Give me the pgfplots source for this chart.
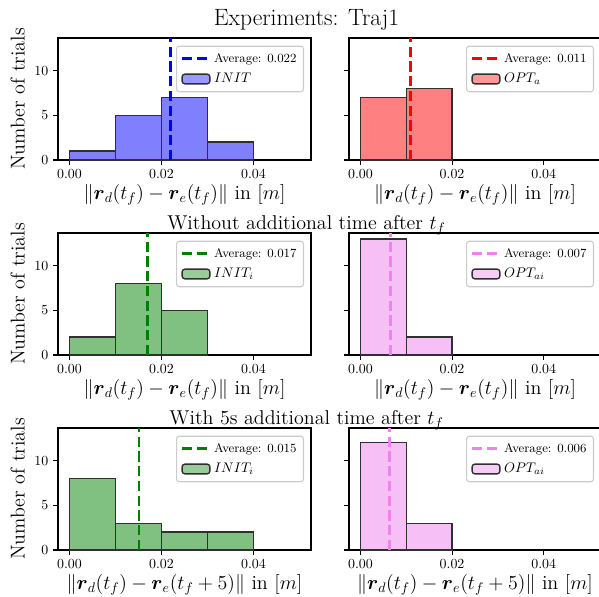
\documentclass[border=0pt]{standalone}
\usepackage{amsmath}
\usepackage{pgfplots}
\pgfplotsset{compat=1.18}
\definecolor{cblue}{HTML}{8080FF}
\definecolor{cred}{HTML}{FF8080}
\definecolor{cgreen}{HTML}{80C080}
\definecolor{cpink}{HTML}{F6C0F6}
\definecolor{mgreen}{HTML}{008000}
\definecolor{mviolet}{HTML}{EE82EE}
\definecolor{edgec}{HTML}{303030}
\pgfplotsset{
  mylinelegend/.style={legend image code/.code={\draw[##1] (0pt,0pt) -- (20pt,0pt);}},
  mypatchlegend/.style={legend image code/.code={\draw[##1] (0pt,-3.5pt) rectangle (20pt,3.5pt);}},
  avg/.style={line width=2pt, dash pattern=on 7.4pt off 3.2pt},
  hist/.style={
    scale only axis, height=87.84pt, anchor=north west,
    xmin=-0.0025, xmax=0.0525, ymin=0, ymax=13.65,
    xtick={0,0.02,0.04}, ytick={0,5,10},
    scaled x ticks=false,
    xticklabel style={/pgf/number format/fixed, /pgf/number format/fixed zerofill, /pgf/number format/precision=2},
    tick align=outside, major tick length=3.5pt,
    tick style={line width=0.8pt, black},
    xtick pos=bottom, ytick pos=left,
    axis line style={line width=0.8pt},
    ticklabel style={font=\fontsize{10}{12}\selectfont},
    label style={font=\fontsize{14.4}{17}\selectfont},
    xlabel style={yshift=2.5pt},
    legend style={at={(1,1)}, anchor=north east, xshift=-5pt, yshift=-5.5pt,
      draw=black!20, rounded corners=2pt, fill=white, fill opacity=0.8, text opacity=1,
      line width=0.8pt, font=\fontsize{10}{12}\selectfont,
      row sep=2.5pt, inner xsep=3pt, inner ysep=3pt,
      /tikz/every even column/.append style={column sep=5pt}},
    legend cell align=left,
  },
  lcol/.style={hist, width=182.16pt, ylabel={Number of trials}},
  rcol/.style={hist, width=181.44pt, yticklabels={}},
}
\newcommand{\xlabA}{$\|\boldsymbol{r}_d(t_f) - \boldsymbol{r}_e(t_f)\|$ in $[m]$}
\newcommand{\xlabB}{$\|\boldsymbol{r}_d(t_f) - \boldsymbol{r}_e(t_f+5)\|$ in $[m]$}
\begin{document}
\begin{tikzpicture}
\path[use as bounding box] (0pt,0pt) rectangle (431.28pt,-429.12pt);
\node[anchor=base] at (220.68pt,-18pt) {\fontsize{17}{20}\selectfont Experiments: Traj1};
\node[anchor=base] at (220.68pt,-164.88pt) {\fontsize{14.4}{17}\selectfont Without additional time after $t_f$};
\node[anchor=base] at (220.68pt,-305.28pt) {\fontsize{14.4}{17}\selectfont With 5s additional time after $t_f$};

% Row 1 left
\begin{axis}[lcol, at={(41.76pt,-27.36pt)}, xlabel={\xlabA}]
\addlegendimage{mylinelegend, blue, avg}
\addlegendentry{\fontsize{9}{11}\selectfont Average: 0.022}
\addplot[ybar interval, fill=cblue, draw=edgec, line width=1pt, mypatchlegend] coordinates {(0,1) (0.01,5) (0.02,7) (0.03,2) (0.04,0)};
\addlegendentry{$INIT$}
\addplot[blue, avg, forget plot] coordinates {(0.022,0) (0.022,13.65)};
\end{axis}

% Row 1 right
\begin{axis}[rcol, at={(251.28pt,-27.36pt)}, xlabel={\xlabA}]
\addlegendimage{mylinelegend, red, avg}
\addlegendentry{\fontsize{9}{11}\selectfont Average: 0.011}
\addplot[ybar interval, fill=cred, draw=edgec, line width=1pt, mypatchlegend] coordinates {(0,7) (0.01,8) (0.02,0)};
\addlegendentry{$OPT_a$}
\addplot[red, avg, forget plot] coordinates {(0.011,0) (0.011,13.65)};
\end{axis}

% Row 2 left
\begin{axis}[lcol, at={(41.76pt,-167.76pt)}, xlabel={\xlabA}]
\addlegendimage{mylinelegend, mgreen, avg}
\addlegendentry{\fontsize{9}{11}\selectfont Average: 0.017}
\addplot[ybar interval, fill=cgreen, draw=edgec, line width=1pt, mypatchlegend] coordinates {(0,2) (0.01,8) (0.02,5) (0.03,0)};
\addlegendentry{$INIT_i$}
\addplot[mgreen, avg, forget plot] coordinates {(0.017,0) (0.017,13.65)};
\end{axis}

% Row 2 right
\begin{axis}[rcol, at={(251.28pt,-167.76pt)}, xlabel={\xlabA}]
\addlegendimage{mylinelegend, mviolet, avg}
\addlegendentry{\fontsize{9}{11}\selectfont Average: 0.007}
\addplot[ybar interval, fill=cpink, draw=edgec, line width=1pt, mypatchlegend] coordinates {(0,13) (0.01,2) (0.02,0)};
\addlegendentry{$OPT_{ai}$}
\addplot[mviolet, avg, forget plot] coordinates {(0.0066,0) (0.0066,13.65)};
\end{axis}

% Row 3 left
\begin{axis}[lcol, at={(41.76pt,-308.16pt)}, xlabel={\xlabB}]
\addlegendimage{mylinelegend, mgreen, avg}
\addlegendentry{\fontsize{9}{11}\selectfont Average: 0.015}
\addplot[ybar interval, fill=cgreen, draw=edgec, line width=1pt, mypatchlegend] coordinates {(0,8) (0.01,3) (0.02,2) (0.03,2) (0.04,0)};
\addlegendentry{$INIT_i$}
\addplot[mgreen, avg, forget plot] coordinates {(0.0151,0) (0.0151,13.65)};
\end{axis}

% Row 3 right
\begin{axis}[rcol, at={(251.28pt,-308.16pt)}, xlabel={\xlabB}]
\addlegendimage{mylinelegend, mviolet, avg}
\addlegendentry{\fontsize{9}{11}\selectfont Average: 0.006}
\addplot[ybar interval, fill=cpink, draw=edgec, line width=1pt, mypatchlegend] coordinates {(0,12) (0.01,3) (0.02,0)};
\addlegendentry{$OPT_{ai}$}
\addplot[mviolet, avg, forget plot] coordinates {(0.0063,0) (0.0063,13.65)};
\end{axis}
\end{tikzpicture}
\end{document}
